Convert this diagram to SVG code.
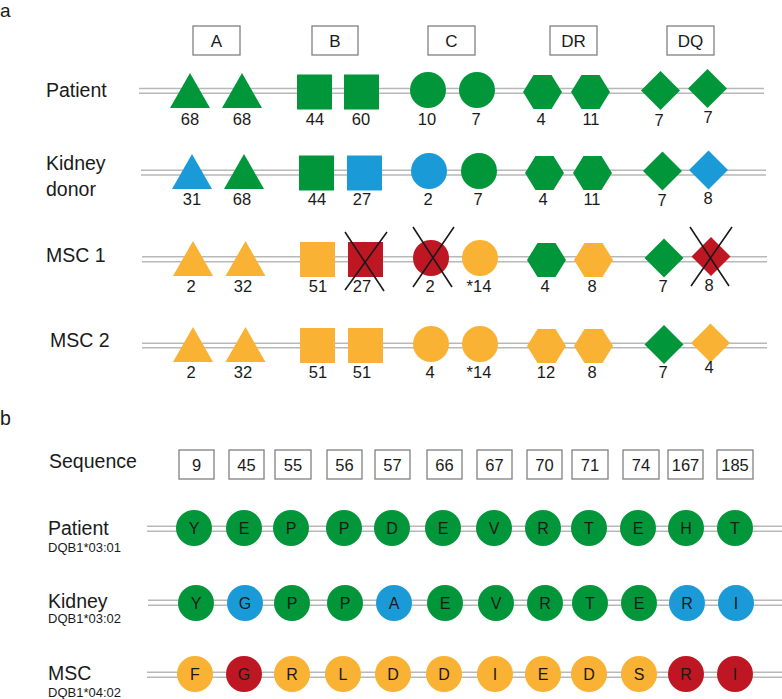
<svg xmlns="http://www.w3.org/2000/svg" xmlns:xlink="http://www.w3.org/1999/xlink" width="782" height="699" viewBox="0 0 782 699">
<style>
text{font-family:"Liberation Sans",Arial,sans-serif;fill:#1a1a1a}
.lbl{font-size:19.5px}
.sub{font-size:13px}
.num{font-size:16.5px;text-anchor:middle}
.hdr{font-size:17px;text-anchor:middle}
.aa{font-size:16px;text-anchor:middle}
.box{fill:#fff;stroke:#808080;stroke-width:1.3}
.ln{stroke:#b8b8b8;stroke-width:1.6;fill:none}
.x{stroke:#1a1a1a;stroke-width:1.6}
.g{fill:#009639}.b{fill:#1a9bd7}.o{fill:#f9b233}.r{fill:#be1622}
</style>
<defs>
<path id="tri" d="M0,-17.5 L20,17.5 L-20,17.5 Z"/>
<rect id="sq" x="-17.5" y="-17.5" width="35" height="35"/>
<path id="hex" d="M-19.5,0 L-9,-17 L9,-17 L19.5,0 L9,17 L-9,17 Z"/>
<path id="dia" d="M0,-19.5 L19.5,0 L0,19.5 L-19.5,0 Z"/>
<circle id="cir" r="18"/>
</defs>
<text x="0" y="17" style="font-size:19px">a</text>
<text class="lbl" x="0" y="425">b</text>

<g id="headers">
<rect class="box" x="193" y="26" width="47" height="29"/><text class="hdr" x="216.5" y="47">A</text>
<rect class="box" x="312" y="26" width="46" height="29"/><text class="hdr" x="335" y="47">B</text>
<rect class="box" x="428" y="26" width="47" height="29"/><text class="hdr" x="451.5" y="47">C</text>
<rect class="box" x="550" y="26" width="47" height="29"/><text class="hdr" x="573.5" y="47">DR</text>
<rect class="box" x="667" y="26" width="47" height="29"/><text class="hdr" x="690.5" y="47">DQ</text>
</g>

<g id="connectors">
<path class="ln" d="M139,88.5H764M139,93.3H764"/>
<path class="ln" d="M141,170.2H766M141,175H766"/>
<path class="ln" d="M142,256.8H767M142,261.7H767"/>
<path class="ln" d="M142,343.3H767M142,347.8H767"/>
<path class="ln" d="M147,526.3H782M147,531.2H782"/>
<path class="ln" d="M148,600.3H782M148,605.2H782"/>
<path class="ln" d="M147,672.3H782M147,677.2H782"/>
</g>

<g id="row-patient">
<text class="lbl" x="46" y="97">Patient</text>
<use href="#tri" class="g" x="190" y="90.5"/>
<use href="#tri" class="g" x="242" y="90.5"/>
<use href="#sq" class="g" x="314.5" y="92"/>
<use href="#sq" class="g" x="361.5" y="92"/>
<use href="#cir" class="g" x="428" y="90"/>
<use href="#cir" class="g" x="477" y="90"/>
<use href="#hex" class="g" x="542.5" y="92"/>
<use href="#hex" class="g" x="590.5" y="92"/>
<use href="#dia" class="g" x="660.5" y="90.5"/>
<use href="#dia" class="g" x="707.5" y="88.5"/>
<text class="num" x="190" y="125">68</text>
<text class="num" x="242" y="125">68</text>
<text class="num" x="315" y="125">44</text>
<text class="num" x="361" y="125">60</text>
<text class="num" x="427" y="125">10</text>
<text class="num" x="476" y="125">7</text>
<text class="num" x="541" y="125">4</text>
<text class="num" x="591" y="125">11</text>
<text class="num" x="659" y="126">7</text>
<text class="num" x="708" y="123">7</text>
</g>

<g id="row-kidney-donor">
<text class="lbl" x="46" y="170">Kidney</text>
<text class="lbl" x="46" y="196">donor</text>
<use href="#tri" class="b" x="192" y="171.5"/>
<use href="#tri" class="g" x="244" y="171.5"/>
<use href="#sq" class="g" x="316.5" y="173"/>
<use href="#sq" class="b" x="364.5" y="173"/>
<use href="#cir" class="b" x="429" y="171"/>
<use href="#cir" class="g" x="479" y="171"/>
<use href="#hex" class="g" x="544.5" y="173"/>
<use href="#hex" class="g" x="592.5" y="173"/>
<use href="#dia" class="g" x="662.5" y="171"/>
<use href="#dia" class="b" x="708.5" y="170"/>
<text class="num" x="192" y="205">31</text>
<text class="num" x="242" y="205">68</text>
<text class="num" x="317" y="205">44</text>
<text class="num" x="362" y="205">27</text>
<text class="num" x="428" y="205">2</text>
<text class="num" x="478" y="205">7</text>
<text class="num" x="543" y="205">4</text>
<text class="num" x="592" y="205">11</text>
<text class="num" x="662" y="206">7</text>
<text class="num" x="708" y="204">8</text>
</g>

<g id="row-msc1">
<text class="lbl" x="46" y="262">MSC 1</text>
<use href="#tri" class="o" x="193" y="258.5"/>
<use href="#tri" class="o" x="245.5" y="258.5"/>
<use href="#sq" class="o" x="317.5" y="259.5"/>
<use href="#sq" class="r" x="365.5" y="259.5"/>
<use href="#cir" class="r" x="431" y="258"/>
<use href="#cir" class="o" x="480" y="258"/>
<use href="#hex" class="g" x="546.5" y="260"/>
<use href="#hex" class="o" x="593.5" y="260"/>
<use href="#dia" class="g" x="664" y="258"/>
<use href="#dia" class="r" x="711" y="256.5"/>
<path class="x" d="M345,232L384,291M387,232L345,290"/>
<path class="x" d="M413,227L452,287M454,227L413,287"/>
<path class="x" d="M690,227L729,286M732,227L691,286"/>
<text class="num" x="191" y="292">2</text>
<text class="num" x="243" y="292">32</text>
<text class="num" x="318" y="292">51</text>
<text class="num" x="362" y="292">27</text>
<text class="num" x="430" y="292">2</text>
<text class="num" x="479" y="292">*14</text>
<text class="num" x="545" y="292">4</text>
<text class="num" x="592" y="292">8</text>
<text class="num" x="663" y="292">7</text>
<text class="num" x="709" y="291">8</text>
</g>

<g id="row-msc2">
<text class="lbl" x="50" y="347">MSC 2</text>
<use href="#tri" class="o" x="193" y="344.5"/>
<use href="#tri" class="o" x="245.5" y="344.5"/>
<use href="#sq" class="o" x="317.5" y="345.5"/>
<use href="#sq" class="o" x="365.5" y="345.5"/>
<use href="#cir" class="o" x="431" y="344"/>
<use href="#cir" class="o" x="480" y="344"/>
<use href="#hex" class="o" x="546.5" y="346"/>
<use href="#hex" class="o" x="593.5" y="346"/>
<use href="#dia" class="g" x="664" y="344.5"/>
<use href="#dia" class="o" x="710.5" y="343"/>
<text class="num" x="191" y="378">2</text>
<text class="num" x="243" y="378">32</text>
<text class="num" x="318" y="378">51</text>
<text class="num" x="362" y="378">51</text>
<text class="num" x="430" y="378">4</text>
<text class="num" x="479" y="378">*14</text>
<text class="num" x="546" y="378">12</text>
<text class="num" x="592" y="378">8</text>
<text class="num" x="663" y="378">7</text>
<text class="num" x="709" y="373">4</text>
</g>

<g id="sequence">
<text class="lbl" x="49" y="468">Sequence</text>
<rect class="box" x="179" y="450" width="35" height="29"/><text class="num" x="196.5" y="471">9</text>
<rect class="box" x="229" y="450" width="35" height="29"/><text class="num" x="246.5" y="471">45</text>
<rect class="box" x="275" y="450" width="36" height="29"/><text class="num" x="293" y="471">55</text>
<rect class="box" x="327" y="450" width="35" height="29"/><text class="num" x="344.5" y="471">56</text>
<rect class="box" x="375" y="450" width="35" height="29"/><text class="num" x="392.5" y="471">57</text>
<rect class="box" x="427" y="450" width="35" height="29"/><text class="num" x="444.5" y="471">66</text>
<rect class="box" x="477" y="450" width="35" height="29"/><text class="num" x="494.5" y="471">67</text>
<rect class="box" x="527" y="450" width="35" height="29"/><text class="num" x="544.5" y="471">70</text>
<rect class="box" x="572" y="450" width="36" height="29"/><text class="num" x="590" y="471">71</text>
<rect class="box" x="623" y="450" width="36" height="29"/><text class="num" x="641" y="471">74</text>
<rect class="box" x="668" y="450" width="35" height="29"/><text class="num" x="685.5" y="471">167</text>
<rect class="box" x="717" y="450" width="36" height="29"/><text class="num" x="735" y="471">185</text>
</g>

<g id="seq-patient">
<text class="lbl" x="48" y="535">Patient</text>
<text class="sub" x="48" y="552">DQB1*03:01</text>
<use href="#cir" class="g" x="194" y="528"/><text class="aa" x="194" y="534">Y</text>
<use href="#cir" class="g" x="244" y="528"/><text class="aa" x="244" y="534">E</text>
<use href="#cir" class="g" x="291" y="528"/><text class="aa" x="291" y="534">P</text>
<use href="#cir" class="g" x="344" y="528"/><text class="aa" x="344" y="534">P</text>
<use href="#cir" class="g" x="392" y="528"/><text class="aa" x="392" y="534">D</text>
<use href="#cir" class="g" x="443" y="528"/><text class="aa" x="443" y="534">E</text>
<use href="#cir" class="g" x="494" y="528"/><text class="aa" x="494" y="534">V</text>
<use href="#cir" class="g" x="543" y="528"/><text class="aa" x="543" y="534">R</text>
<use href="#cir" class="g" x="589" y="528"/><text class="aa" x="589" y="534">T</text>
<use href="#cir" class="g" x="638" y="528"/><text class="aa" x="638" y="534">E</text>
<use href="#cir" class="g" x="686" y="528"/><text class="aa" x="686" y="534">H</text>
<use href="#cir" class="g" x="735" y="528"/><text class="aa" x="735" y="534">T</text>
</g>

<g id="seq-kidney">
<text class="lbl" x="48" y="608">Kidney</text>
<text class="sub" x="48" y="623">DQB1*03:02</text>
<use href="#cir" class="g" x="196" y="603"/><text class="aa" x="196" y="609">Y</text>
<use href="#cir" class="b" x="245" y="603"/><text class="aa" x="245" y="609">G</text>
<use href="#cir" class="g" x="292" y="603"/><text class="aa" x="292" y="609">P</text>
<use href="#cir" class="g" x="345" y="603"/><text class="aa" x="345" y="609">P</text>
<use href="#cir" class="b" x="394" y="603"/><text class="aa" x="394" y="609">A</text>
<use href="#cir" class="g" x="445" y="603"/><text class="aa" x="445" y="609">E</text>
<use href="#cir" class="g" x="496" y="603"/><text class="aa" x="496" y="609">V</text>
<use href="#cir" class="g" x="545" y="603"/><text class="aa" x="545" y="609">R</text>
<use href="#cir" class="g" x="590" y="603"/><text class="aa" x="590" y="609">T</text>
<use href="#cir" class="g" x="639" y="603"/><text class="aa" x="639" y="609">E</text>
<use href="#cir" class="b" x="687" y="603"/><text class="aa" x="687" y="609">R</text>
<use href="#cir" class="b" x="736" y="603"/><text class="aa" x="736" y="609">I</text>
</g>

<g id="seq-msc">
<text class="lbl" x="48" y="680">MSC</text>
<text class="sub" x="48" y="697">DQB1*04:02</text>
<use href="#cir" class="o" x="195" y="674"/><text class="aa" x="195" y="680">F</text>
<use href="#cir" class="r" x="244" y="674"/><text class="aa" x="244" y="680">G</text>
<use href="#cir" class="o" x="292" y="674"/><text class="aa" x="292" y="680">R</text>
<use href="#cir" class="o" x="343" y="674"/><text class="aa" x="343" y="680">L</text>
<use href="#cir" class="o" x="393" y="674"/><text class="aa" x="393" y="680">D</text>
<use href="#cir" class="o" x="444" y="674"/><text class="aa" x="444" y="680">D</text>
<use href="#cir" class="o" x="495" y="674"/><text class="aa" x="495" y="680">I</text>
<use href="#cir" class="o" x="543" y="674"/><text class="aa" x="543" y="680">E</text>
<use href="#cir" class="o" x="589" y="674"/><text class="aa" x="589" y="680">D</text>
<use href="#cir" class="o" x="639" y="674"/><text class="aa" x="639" y="680">S</text>
<use href="#cir" class="r" x="686" y="674"/><text class="aa" x="686" y="680">R</text>
<use href="#cir" class="r" x="735" y="674"/><text class="aa" x="735" y="680">I</text>
</g>
</svg>
